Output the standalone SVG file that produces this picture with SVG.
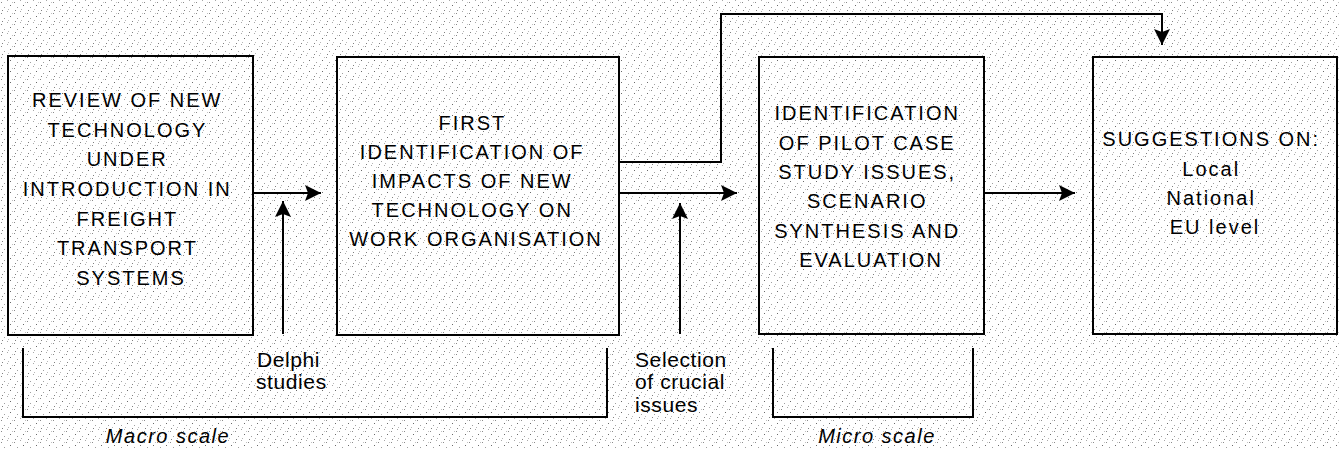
<svg xmlns="http://www.w3.org/2000/svg" width="1339" height="449" viewBox="0 0 1339 449">
  <defs>
    <!-- stippled paper texture -->
    <pattern id="stipple" width="13" height="11" patternUnits="userSpaceOnUse">
      <rect width="13" height="11" fill="#ffffff"/>
      <rect x="1" y="2" width="1" height="1" fill="#8a8a8a"/>
      <rect x="7" y="0" width="1" height="1" fill="#a8a8a8"/>
      <rect x="10" y="5" width="1" height="1" fill="#6a6a6a"/>
      <rect x="4" y="7" width="1" height="1" fill="#a0a0a0"/>
      <rect x="8" y="9" width="1" height="1" fill="#b8b8b8"/>
      <rect x="2" y="10" width="1" height="1" fill="#808080"/>
      <rect x="12" y="2" width="1" height="1" fill="#c0c0c0"/>
    </pattern>
    <marker id="head" markerUnits="userSpaceOnUse" markerWidth="18" markerHeight="16" refX="16" refY="8" orient="auto">
      <path d="M0,0 L16,8 L0,16 L3,8 Z" fill="#000"/>
    </marker>
    <style>
      .box { fill: none; stroke: #000; stroke-width: 2; }
      .line { fill: none; stroke: #000; stroke-width: 2; }
      .arrow { fill: none; stroke: #000; stroke-width: 2; marker-end: url(#head); }
      .t { font-family: "Liberation Sans", Arial, sans-serif; font-size: 20px; letter-spacing: 2px; fill: #000; text-anchor: middle; }
      .lbl { font-family: "Liberation Sans", Arial, sans-serif; font-size: 21px; letter-spacing: 0.6px; fill: #000; }
      .scale { font-family: "Liberation Sans", Arial, sans-serif; font-size: 20px; font-style: italic; letter-spacing: 1.5px; fill: #000; text-anchor: middle; }
    </style>
  </defs>

  <rect x="0" y="0" width="1339" height="449" fill="url(#stipple)"/>

  <!-- process boxes -->
  <g id="review">
    <rect class="box" x="8" y="56" width="245" height="279"/>
    <text class="t">
      <tspan x="131" y="107">REVIEW OF NEW</tspan>
      <tspan x="131" y="137">TECHNOLOGY</tspan>
      <tspan x="131" y="166">UNDER</tspan>
      <tspan x="131" y="196">INTRODUCTION IN</tspan>
      <tspan x="131" y="226">FREIGHT</tspan>
      <tspan x="131" y="255">TRANSPORT</tspan>
      <tspan x="131" y="285">SYSTEMS</tspan>
    </text>
  </g>

  <g id="impacts">
    <rect class="box" x="337" y="57" width="282" height="278"/>
    <text class="t">
      <tspan x="476" y="130">FIRST</tspan>
      <tspan x="476" y="159">IDENTIFICATION OF</tspan>
      <tspan x="476" y="188">IMPACTS OF NEW</tspan>
      <tspan x="476" y="217">TECHNOLOGY ON</tspan>
      <tspan x="476" y="246">WORK ORGANISATION</tspan>
    </text>
  </g>

  <g id="pilot">
    <rect class="box" x="759" y="57" width="225" height="277"/>
    <text class="t">
      <tspan x="871" y="120">IDENTIFICATION</tspan>
      <tspan x="871" y="150">OF PILOT CASE</tspan>
      <tspan x="871" y="179">STUDY ISSUES,</tspan>
      <tspan x="871" y="208">SCENARIO</tspan>
      <tspan x="871" y="238">SYNTHESIS AND</tspan>
      <tspan x="871" y="267">EVALUATION</tspan>
    </text>
  </g>

  <g id="suggestions">
    <rect class="box" x="1093" y="57" width="244" height="277"/>
    <text class="t">
      <tspan x="1215" y="146">SUGGESTIONS ON:</tspan>
      <tspan x="1215" y="176">Local</tspan>
      <tspan x="1215" y="205">National</tspan>
      <tspan x="1215" y="234">EU level</tspan>
    </text>
  </g>

  <!-- connectors -->
  <g id="connectors">
    <path class="arrow" d="M253,193 H321"/>
    <path class="arrow" d="M283,334 V201"/>
    <path class="arrow" d="M619,193 H737"/>
    <path class="arrow" d="M680,334 V203"/>
    <path class="arrow" d="M984,193 H1075"/>
    <path class="arrow" d="M619,162 H721 V14 H1162 V45"/>
  </g>

  <!-- input labels -->
  <g id="delphi">
    <text class="lbl"><tspan x="257" y="367">Delphi</tspan><tspan x="256" y="389">studies</tspan></text>
  </g>
  <g id="selection">
    <text class="lbl"><tspan x="635" y="367">Selection</tspan><tspan x="635" y="389">of crucial</tspan><tspan x="635" y="412">issues</tspan></text>
  </g>

  <!-- scale brackets -->
  <g id="macro">
    <path class="line" d="M23,348 V417 H607 V348"/>
    <text class="scale" x="168" y="443">Macro scale</text>
  </g>
  <g id="micro">
    <path class="line" d="M773,348 V417 H973 V348"/>
    <text class="scale" x="877" y="443">Micro scale</text>
  </g>
</svg>
